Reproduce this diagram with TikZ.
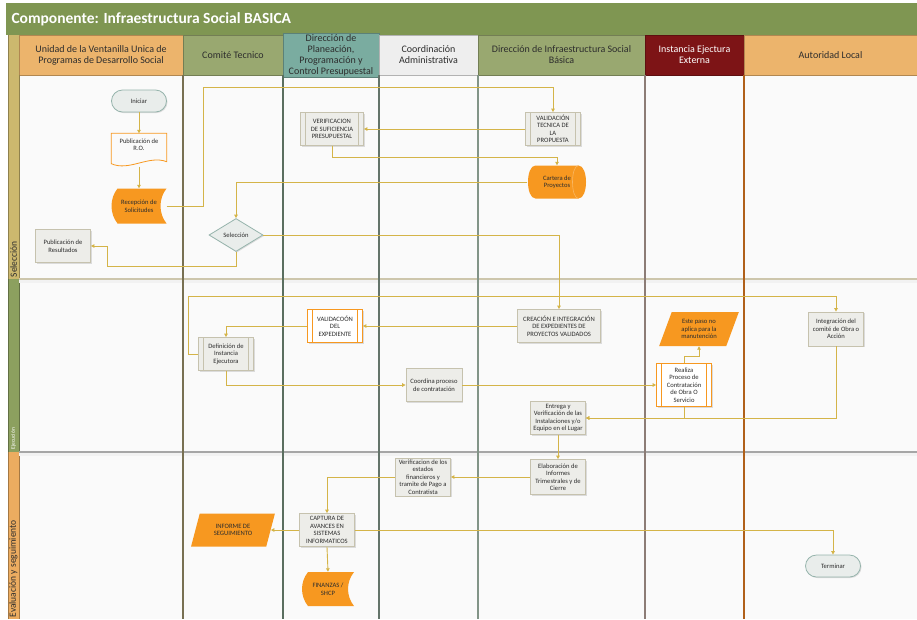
\documentclass[tikz,border=0pt]{standalone}
\usepackage{fontspec}
\setmainfont{Carlito}
\usetikzlibrary{arrows.meta,shapes.geometric,shadows}

\definecolor{titlegreen}{RGB}{127,150,82}
\definecolor{headorange}{RGB}{236,180,108}
\definecolor{headgreen}{RGB}{153,168,112}
\definecolor{headteal}{RGB}{122,172,160}
\definecolor{headgray}{RGB}{238,238,238}
\definecolor{headred}{RGB}{125,20,22}
\definecolor{stripsel}{RGB}{204,184,110}
\definecolor{stripeje}{RGB}{140,160,95}
\definecolor{stripeva}{RGB}{236,172,96}
\definecolor{flowgold}{RGB}{212,180,72}
\definecolor{boxfill}{RGB}{237,237,233}
\definecolor{boxline}{RGB}{198,194,174}
\definecolor{termline}{RGB}{150,180,172}
\definecolor{termfill}{RGB}{233,237,235}
\definecolor{nodeorange}{RGB}{247,152,32}
\definecolor{laneback}{RGB}{250,250,250}
\definecolor{textgray}{RGB}{45,45,45}
\definecolor{sepline}{RGB}{205,198,172}
\definecolor{colA}{RGB}{120,112,82}
\definecolor{colB}{RGB}{90,110,95}
\definecolor{colC}{RGB}{100,116,106}
\definecolor{colD}{RGB}{130,148,135}
\definecolor{colE}{RGB}{140,124,118}
\definecolor{colF}{RGB}{176,96,26}

\newcommand\nodefont{\fontsize{6.6}{7.5}\selectfont}

\tikzset{
    head/.style = {
        draw=#1!75!black, fill=#1, minimum height=40, inner sep=1,
        align=center, text=textgray, font=\fontsize{10}{11}\selectfont
    },
    box/.style = {
        draw=boxline, fill=boxfill, line width=0.8,
        minimum width=55, minimum height=33, inner sep=0.5,
        align=center, text=textgray, font=\nodefont,
        drop shadow={shadow xshift=1pt, shadow yshift=-1pt, opacity=0.25}
    },
    sub/.style = {
        box,
        path picture={
            \draw[#1, line width=0.8]
                ([xshift=5pt]path picture bounding box.north west) -- ([xshift=5pt]path picture bounding box.south west)
                ([xshift=-5pt]path picture bounding box.north east) -- ([xshift=-5pt]path picture bounding box.south east);
        }
    },
    sub/.default = boxline,
    subo/.style = {sub=nodeorange, draw=nodeorange, fill=white},
    term/.style = {
        box, draw=termline, fill=termfill, rounded corners=11, minimum height=22
    },
    choice/.style = {
        box, diamond, aspect=1.64, minimum width=54, minimum height=33,
        inner sep=0, draw=termline, fill=termfill
    },
    doc/.style = {
        minimum width=55, minimum height=33, inner sep=1,
        align=center, text=textgray, font=\nodefont
    },
    docline/.style = {
        draw=nodeorange, line width=0.8
    },
    sdata/.style = {
        minimum width=55, minimum height=35, inner sep=1, fill=laneback,
        align=center, text=textgray, font=\nodefont,
        path picture={
            \fill[nodeorange] ([xshift=6pt]path picture bounding box.north west)
                -- (path picture bounding box.north east)
                .. controls ([xshift=-8pt,yshift=-10pt]path picture bounding box.north east)
                and ([xshift=-8pt,yshift=10pt]path picture bounding box.south east)
                .. (path picture bounding box.south east)
                -- ([xshift=6pt]path picture bounding box.south west)
                .. controls ([xshift=-2pt,yshift=10pt]path picture bounding box.south west)
                and ([xshift=-2pt,yshift=-10pt]path picture bounding box.north west)
                .. cycle;
        }
    },
    drum/.style = {
        minimum width=59, minimum height=33, inner sep=1, fill=laneback,
        align=center, text=textgray, font=\nodefont,
        path picture={
            \fill[nodeorange] ([xshift=8pt]path picture bounding box.north west)
                -- ([xshift=-8pt]path picture bounding box.north east)
                .. controls ([xshift=2pt]path picture bounding box.north east)
                and ([xshift=2pt]path picture bounding box.south east)
                .. ([xshift=-8pt]path picture bounding box.south east)
                -- ([xshift=8pt]path picture bounding box.south west)
                .. controls ([xshift=-2pt]path picture bounding box.south west)
                and ([xshift=-2pt]path picture bounding box.north west)
                .. cycle;
            \draw[nodeorange!70!white, line width=0.6] ([xshift=-8pt]path picture bounding box.north east)
                .. controls ([xshift=-16pt]path picture bounding box.north east)
                and ([xshift=-16pt]path picture bounding box.south east)
                .. ([xshift=-8pt]path picture bounding box.south east);
        }
    },
    para/.style = {
        trapezium, trapezium left angle=67, trapezium right angle=113,
        trapezium stretches=true, minimum width=84, minimum height=33,
        inner sep=0, fill=nodeorange, align=center, text=textgray, font=\nodefont
    },
    flow/.style = {
        draw=flowgold, line width=0.9, -{Triangle[length=3.5pt,width=3.5pt]}
    },
    lanetext/.style = {
        rotate=90, anchor=west, inner sep=0.5, text=textgray,
        font=\fontsize{9.5}{11}\selectfont
    }
}

\begin{document}
\begin{tikzpicture}[x=1pt,y=-1pt]
    \useasboundingbox (0,0) rectangle (917,619);
    % Lanes
    \newcommand\LA{75}
    \newcommand\LB{279}
    \newcommand\LC{452}
    \fill[laneback] (19,\LA) rectangle (917,619);
    \fill[titlegreen] (6,3) rectangle (917,35);
    \node[anchor=west, text=white, font=\fontsize{15.5}{17}\selectfont\bfseries] (title) at (8,19.5)
        {Componente: Infraestructura Social BASICA};

    %Headers
    \node[head=headorange, minimum width=164] (hUnidad) at (101,55)
        {Unidad de la Ventanilla Unica de\\Programas de Desarrollo Social};
    \node[head=headgreen, minimum width=100] (hComite) at (233,55) {Comité Tecnico};
    \node[head=headteal, minimum width=96] (hPlan) at (331,55)
        {Dirección de\\Planeación,\\Programación y\\Control Presupuestal};
    \node[head=headgray, minimum width=99] (hCoord) at (428.5,55) {Coordinación\\Administrativa};
    \node[head=headgreen, minimum width=167] (hInfra) at (561.5,55)
        {Dirección de Infraestructura Social\\Básica};
    \node[head=headred, minimum width=99, text=white] (hInst) at (694.5,55)
        {Instancia Ejectura\\Externa};
    \node[head=headorange, minimum width=173] (hAut) at (830.5,55) {Autoridad Local};

    %Strips
    \fill[stripsel] (8,35) rectangle (19,\LB);
    \fill[stripeje] (8,\LB) rectangle (19,\LC);
    \fill[stripeva] (8,\LC) rectangle (19,619);
    \draw[stripsel!70!black, line width=0.8] (8,35) -- (8,\LB) (19,\LA) -- (19,\LB);
    \draw[stripeje!70!black, line width=0.8] (8,\LB) -- (8,\LC) (19,\LB) -- (19,\LC);
    \draw[stripeva!70!black, line width=0.8] (8,\LC) -- (8,619) (19,\LC) -- (19,619);
    \node[lanetext] (lSel) at (13.5,278) {Selección};
    \node[lanetext, text=white, font=\fontsize{5.5}{6}\selectfont] (lEje) at (13.5,450) {Ejecución};
    \node[lanetext] (lEva) at (13.5,618) {Evaluación y seguimiento};

    \fill[black!5] (19,\LB) rectangle (917,\LB+4);
    \fill[black!5] (19,\LC) rectangle (917,\LC+4);
    \draw[sepline, line width=1.2] (19,\LB) -- (917,\LB);
    \draw[black!35, line width=1.2] (19,\LC) -- (917,\LC);
    \foreach \x/\c in {183/colA, 283/colB, 379/colC, 478/colD, 645/colE, 744/colF}
        \draw[\c, line width=1.4] (\x,\LA) -- (\x,619);

    %Seleccion
    \node[term] (ini) at (139,101) {Iniciar};
    \node[doc] (pub) at (139,150) {Publicación de\\R.O.\\[3pt]};
    \draw[docline] (pub.north west) -- (pub.north east) -- ([yshift=5pt]pub.south east)
        .. controls ([xshift=-18pt,yshift=12pt]pub.south east) and ([xshift=18pt,yshift=-5pt]pub.south west)
        .. ([yshift=3pt]pub.south west) -- cycle;
    \node[sdata] (rec) at (139,206) {Recepción de\\Solicitudes};
    \node[box] (pres) at (63,246) {Publicación de\\Resultados};
    \node[choice] (sel) at (236,235) {Selección};
    \node[sub, minimum width=63] (ver) at (332,129) {VERIFICACION\\DE SUFICIENCIA\\PRESUPUESTAL};
    \node[sub] (val) at (553,129) {VALIDACIÓN\\TECNICA DE\\LA\\PROPUESTA};
    \node[drum] (cart) at (557,182) {Cartera de\\Proyectos};

    %Ejecucion
    \node[sub] (def) at (226,354) {Definición de\\Instancia\\Ejecutora};
    \node[subo] (vexp) at (335,326) {VALIDACOÓN\\DEL\\EXPEDIENTE};
    \node[box, minimum width=83] (cre) at (559,326)
        {CREACIÓN E INTEGRACIÓN\\DE EXPEDIENTES DE\\PROYECTOS VALIDADOS};
    \node[box, minimum width=56] (coord) at (434,385) {Coordina proceso\\de contratación};
    \node[box] (ent) at (558,418) {Entrega y\\Verificación de las\\Instalaciones y/o\\Equipo en el Lugar};
    \node[para, minimum width=80, minimum height=34] (este) at (699,329)
        {Este paso no\\aplica para la\\manutención};
    \node[subo, minimum height=43] (real) at (684,385)
        {Realiza\\Proceso de\\Contratación\\de Obra O\\Servicio};
    \node[box, minimum height=34] (integ) at (836,329) {Integración del\\comité de Obra o\\Acción};

    %Evaluacion
    \node[box, minimum height=38] (vfin) at (423,477)
        {Verificacion de los\\estados\\financieros y\\tramite de Pago a\\Contratista};
    \node[box, minimum height=35] (elab) at (558,477) {Elaboración de\\Informes\\Trimestrales y de\\Cierre};
    \node[box] (cap) at (327,530) {CAPTURA DE\\AVANCES EN\\SISTEMAS\\INFORMATICOS};
    \node[para] (inf) at (233,530) {INFORME DE\\SEGUIMIENTO};
    \node[sdata, minimum width=52, minimum height=34] (fin) at (328,589) {FINANZAS /\\SHCP};
    \node[term] (term) at (833,566) {Terminar};

    %Flows
    \draw[flow] (ini) -- (pub);
    \draw[flow] (pub) -- (rec);
    \draw[flow] (rec.east) -| (203,87) -| (val.north);
    \draw[flow] (val.west) -- (ver.east);
    \draw[flow] (ver.south) -- ++(0,12) -| (cart.north);
    \draw[flow] (cart.west) -| (sel.north);
    \draw[flow] (sel.south) -- ++(0,15) -| (107,246) -- (pres.east);
    \draw[flow] (sel.east) -| (cre.north);
    \draw[flow] (def.west) -- ++(-10,0) |- (836,296) -- (integ.north);
    \draw[flow] (cre.west) -- (vexp.east);
    \draw[flow] (vexp.west) -| (def.north);
    \draw[flow] (def.south) |- (coord.west);
    \draw[flow] (coord.east) -- (real.west);
    \draw[flow] (real.north) -- ++(0,-7) -| (este.south);
    \draw[flow] (real.south) |- (ent.east);
    \draw[flow] (integ.south) |- (ent.east);
    \draw[flow] (ent.south) -- (elab.north);
    \draw[flow] (elab.west) -- (vfin.east);
    \draw[flow] (vfin.west) -| (cap.north);
    \draw[flow] (cap.west) -- (inf.east);
    \draw[flow] (cap.south) -- (fin.north);
    \draw[flow] (cap.east) -| (term.north);
\end{tikzpicture}
\end{document}
